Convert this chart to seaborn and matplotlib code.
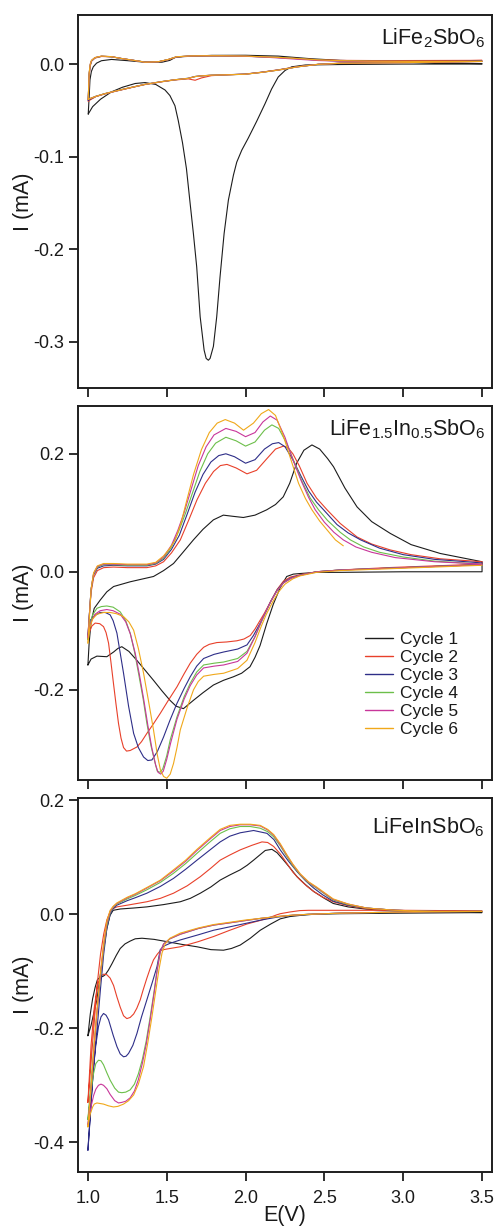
import matplotlib
matplotlib.use("Agg")
import matplotlib.pyplot as plt
from matplotlib.lines import Line2D
import pandas as pd
import seaborn as sns

# ---------------- data (E in V, I in mA) ----------------
CYCLES = ["Cycle 1", "Cycle 2", "Cycle 3", "Cycle 4", "Cycle 5", "Cycle 6"]
COLORS = ["#1c1c1c", "#e8402a", "#2e2e88", "#6cbf4a", "#c8369a", "#f0a81a"]
XTICKS = [1.0, 1.5, 2.0, 2.5, 3.0, 3.5]
XTICKLABELS = ["1.0", "1.5", "2.0", "2.5", "3.0", "3.5"]
TITLES = ["LiFe$_2$SbO$_6$", "LiFe$_{1.5}$In$_{0.5}$SbO$_6$", "LiFeInSbO$_6$"]
YTICKS_1 = [0.0, -0.1, -0.2, -0.3]
YTICKS_2 = [0.2, 0.0, -0.2]
YTICKS_3 = [0.2, 0.0, -0.2, -0.4]

# ----- Panel 1: LiFe2SbO6 -----
P1_C1_UP = [(1.002, -0.054), (1.008, -0.035), (1.013, -0.017), (1.022, -0.008), (1.034, -0.003),
            (1.055, 0.001), (1.086, 0.0036), (1.15, 0.005), (1.256, 0.0036), (1.362, 0.002),
            (1.47, 0.002), (1.52, 0.004), (1.552, 0.007), (1.60, 0.008), (1.784, 0.0094),
            (2.0, 0.0095), (2.207, 0.0086), (2.419, 0.0057), (2.6, 0.004), (2.8, 0.003),
            (3.0, 0.002), (3.25, 0.001), (3.5, 0.0005)]
P1_C1_DN = [(3.5, 0.0), (3.0, 0.0), (2.6, -0.0005), (2.38, -0.001), (2.292, -0.003), (2.25, -0.007),
            (2.207, -0.014), (2.165, -0.027), (2.123, -0.043), (2.07, -0.062), (2.017, -0.080),
            (1.976, -0.093), (1.944, -0.106), (1.923, -0.120), (1.891, -0.147), (1.864, -0.183),
            (1.838, -0.230), (1.817, -0.273), (1.796, -0.305), (1.775, -0.318), (1.764, -0.320),
            (1.75, -0.318), (1.737, -0.309), (1.712, -0.273), (1.690, -0.219), (1.669, -0.183),
            (1.648, -0.150), (1.625, -0.113), (1.60, -0.085), (1.573, -0.061), (1.552, -0.045),
            (1.52, -0.034), (1.489, -0.028), (1.43, -0.022), (1.362, -0.020), (1.30, -0.021),
            (1.22, -0.025), (1.150, -0.030), (1.08, -0.038), (1.03, -0.046), (1.002, -0.054)]
P1_UP_E = [1.002, 1.008, 1.015, 1.023, 1.045, 1.086, 1.15, 1.213, 1.29, 1.362, 1.446, 1.51, 1.562,
           1.65, 1.74, 1.85, 1.995, 2.1, 2.207, 2.33, 2.461, 2.6, 2.8, 3.0, 3.25, 3.5]
P1_C2_UP_I = [-0.040, -0.012, -0.002, 0.003, 0.0065, 0.0082, 0.0078, 0.006, 0.004, 0.0022, 0.0025,
              0.0048, 0.0077, 0.0086, 0.0088, 0.0088, 0.0085, 0.0079, 0.0071, 0.0060, 0.0046,
              0.0040, 0.0038, 0.0038, 0.0039, 0.0040]
P1_C3_UP_I = [-0.039, -0.011, -0.001, 0.0035, 0.0068, 0.0084, 0.0079, 0.006, 0.004, 0.0021, 0.0024,
              0.0049, 0.0078, 0.0087, 0.0089, 0.0089, 0.0085, 0.0079, 0.0071, 0.0059, 0.0043,
              0.0034, 0.0030, 0.0029, 0.0029, 0.0030]
P1_C4_UP_I = [-0.038, -0.010, -0.0005, 0.0038, 0.0069, 0.0085, 0.0079, 0.006, 0.004, 0.0021, 0.0024,
              0.0049, 0.0078, 0.0087, 0.0089, 0.0089, 0.0085, 0.0079, 0.0070, 0.0058, 0.0042,
              0.0033, 0.0029, 0.0028, 0.0028, 0.0029]
P1_C5_UP_I = [-0.038, -0.010, 0.0, 0.0039, 0.0070, 0.0085, 0.0080, 0.006, 0.004, 0.0020, 0.0024,
              0.0049, 0.0078, 0.0087, 0.0089, 0.0089, 0.0084, 0.0077, 0.0066, 0.0052, 0.0038,
              0.0031, 0.0028, 0.0027, 0.0027, 0.0028]
P1_C6_UP_I = [-0.038, -0.009, 0.0, 0.004, 0.007, 0.0086, 0.008, 0.006, 0.004, 0.002, 0.0025,
              0.005, 0.0079, 0.0088, 0.009, 0.009, 0.0086, 0.008, 0.0072, 0.006, 0.0045,
              0.0037, 0.0031, 0.0029, 0.0028, 0.0028]
P1_DN_E = [3.5, 3.0, 2.6, 2.461, 2.33, 2.207, 2.1, 1.996, 1.9, 1.784, 1.72, 1.68, 1.636, 1.55,
           1.467, 1.36, 1.256, 1.18, 1.108, 1.05, 1.002]
P1_C2_DN_I = [0.0040, 0.0025, 0.0010, -0.0002, -0.0028, -0.0062, -0.0088, -0.0108, -0.0115, -0.0125,
              -0.0150, -0.0175, -0.0160, -0.0172, -0.0192, -0.0222, -0.0262, -0.0292, -0.0322,
              -0.0352, -0.040]
P1_C3_DN_I = [0.0030, 0.0018, 0.0009, -0.0003, -0.0029, -0.0064, -0.0089, -0.0109, -0.0114, -0.0120,
              -0.0127, -0.0134, -0.0153, -0.0170, -0.0190, -0.0220, -0.0260, -0.0290, -0.0320,
              -0.0350, -0.039]
P1_C4_DN_I = [0.0029, 0.0016, 0.0008, -0.0003, -0.0030, -0.0065, -0.0090, -0.0110, -0.0115, -0.0121,
              -0.0128, -0.0135, -0.0155, -0.0170, -0.0190, -0.0220, -0.0259, -0.0289, -0.0319,
              -0.0348, -0.038]
P1_C5_DN_I = [0.0028, 0.0015, 0.0008, -0.0003, -0.0030, -0.0065, -0.0090, -0.0110, -0.0115, -0.0121,
              -0.0128, -0.0135, -0.0155, -0.0170, -0.0190, -0.0220, -0.0260, -0.0290, -0.0320,
              -0.0349, -0.038]
P1_C6_DN_I = [0.0028, 0.0015, 0.0008, -0.0003, -0.0030, -0.0065, -0.0090, -0.0110, -0.0115, -0.0120,
              -0.0128, -0.0135, -0.0155, -0.0170, -0.0190, -0.0220, -0.0260, -0.0290, -0.0320,
              -0.0350, -0.038]

# ----- Panel 2: LiFe1.5In0.5SbO6 -----
P2_C1_UP = [(1.0, -0.158), (1.008, -0.12), (1.02, -0.085), (1.04, -0.062), (1.078, -0.048),
            (1.12, -0.034), (1.163, -0.025), (1.268, -0.017), (1.35, -0.012), (1.416, -0.008),
            (1.48, 0.002), (1.543, 0.014), (1.60, 0.032), (1.669, 0.054), (1.73, 0.072),
            (1.796, 0.088), (1.859, 0.096), (1.92, 0.094), (1.986, 0.092), (2.06, 0.096),
            (2.134, 0.105), (2.19, 0.114), (2.239, 0.127), (2.28, 0.150), (2.324, 0.184),
            (2.37, 0.206), (2.421, 0.215), (2.47, 0.208), (2.52, 0.192), (2.558, 0.178),
            (2.63, 0.142), (2.707, 0.110), (2.80, 0.085), (2.918, 0.065), (3.05, 0.046),
            (3.235, 0.031), (3.5, 0.017)]
P2_C1_DN = [(3.5, 0.0), (3.0, 0.0), (2.6, -0.001), (2.45, -0.001), (2.345, -0.003), (2.303, -0.004),
            (2.261, -0.008), (2.218, -0.028), (2.176, -0.055), (2.134, -0.088), (2.092, -0.125),
            (2.06, -0.145), (2.028, -0.161), (1.975, -0.172), (1.923, -0.178), (1.86, -0.184),
            (1.796, -0.192), (1.73, -0.205), (1.669, -0.218), (1.606, -0.232), (1.56, -0.228),
            (1.521, -0.218), (1.47, -0.202), (1.416, -0.184), (1.36, -0.166), (1.31, -0.150),
            (1.26, -0.135), (1.215, -0.127), (1.19, -0.130), (1.163, -0.136), (1.12, -0.144),
            (1.057, -0.143), (1.02, -0.148), (1.0, -0.158)]
P2_C2_UP = [(1.0, -0.108), (1.01, -0.07), (1.02, -0.035), (1.036, -0.010), (1.06, 0.002),
            (1.10, 0.007), (1.162, 0.008), (1.25, 0.007), (1.374, 0.007), (1.43, 0.010),
            (1.48, 0.017), (1.53, 0.032), (1.586, 0.054), (1.64, 0.088), (1.692, 0.122),
            (1.745, 0.150), (1.797, 0.170), (1.84, 0.180), (1.882, 0.182), (1.94, 0.176),
            (2.009, 0.166), (2.07, 0.172), (2.136, 0.192), (2.19, 0.208), (2.24, 0.213),
            (2.27, 0.210), (2.30, 0.200), (2.34, 0.180), (2.39, 0.150), (2.45, 0.125),
            (2.517, 0.105), (2.60, 0.082), (2.707, 0.059), (2.80, 0.047), (2.918, 0.037),
            (3.05, 0.029), (3.235, 0.022), (3.5, 0.017)]
P2_C2_DN = [(3.5, 0.013), (3.2, 0.010), (2.9, 0.007), (2.6, 0.003), (2.45, 0.000), (2.345, -0.005),
            (2.284, -0.009), (2.24, -0.016), (2.20, -0.030), (2.16, -0.050), (2.12, -0.070),
            (2.093, -0.082), (2.06, -0.097), (2.03, -0.108), (1.99, -0.114), (1.945, -0.117),
            (1.88, -0.119), (1.818, -0.120), (1.77, -0.123), (1.734, -0.128), (1.69, -0.140),
            (1.649, -0.155), (1.61, -0.173), (1.565, -0.195), (1.51, -0.218), (1.459, -0.240),
            (1.415, -0.258), (1.374, -0.274), (1.34, -0.288), (1.311, -0.297), (1.268, -0.303),
            (1.245, -0.304), (1.226, -0.298), (1.21, -0.282), (1.194, -0.257), (1.178, -0.224),
            (1.162, -0.189), (1.146, -0.153), (1.131, -0.121), (1.115, -0.103), (1.099, -0.093),
            (1.075, -0.088), (1.046, -0.087), (1.025, -0.092), (1.015, -0.099), (1.0, -0.108)]
P2_C3_UP = [(1.0, -0.110), (1.01, -0.07), (1.02, -0.03), (1.036, -0.005), (1.06, 0.006),
            (1.10, 0.010), (1.162, 0.011), (1.25, 0.010), (1.374, 0.010), (1.43, 0.013),
            (1.48, 0.021), (1.53, 0.038), (1.58, 0.062), (1.63, 0.098), (1.68, 0.135),
            (1.73, 0.165), (1.78, 0.186), (1.83, 0.197), (1.875, 0.200), (1.93, 0.195),
            (2.0, 0.184), (2.06, 0.190), (2.12, 0.208), (2.17, 0.217), (2.21, 0.219),
            (2.25, 0.212), (2.30, 0.190), (2.35, 0.163), (2.40, 0.137), (2.45, 0.118),
            (2.495, 0.105), (2.58, 0.080), (2.65, 0.066), (2.73, 0.054), (2.85, 0.040),
            (3.0, 0.029), (3.2, 0.021), (3.5, 0.015)]
P2_C3_DN = [(3.5, 0.012), (3.2, 0.009), (2.9, 0.006), (2.6, 0.003), (2.45, 0.000), (2.345, -0.006),
            (2.29, -0.010), (2.24, -0.018), (2.20, -0.031), (2.16, -0.050), (2.12, -0.073),
            (2.093, -0.087), (2.05, -0.108), (2.009, -0.124), (1.95, -0.131), (1.861, -0.136),
            (1.80, -0.140), (1.734, -0.147), (1.69, -0.160), (1.649, -0.178), (1.61, -0.198),
            (1.565, -0.223), (1.52, -0.252), (1.48, -0.280), (1.44, -0.305), (1.406, -0.319),
            (1.38, -0.320), (1.353, -0.314), (1.32, -0.298), (1.29, -0.274), (1.258, -0.228),
            (1.226, -0.172), (1.205, -0.138), (1.184, -0.104), (1.16, -0.083), (1.141, -0.073),
            (1.11, -0.069), (1.078, -0.069), (1.045, -0.074), (1.015, -0.082), (1.0, -0.110)]
P2_C4_UP = [(1.0, -0.115), (1.01, -0.07), (1.02, -0.03), (1.036, -0.004), (1.06, 0.008),
            (1.10, 0.012), (1.162, 0.012), (1.25, 0.011), (1.374, 0.011), (1.43, 0.014),
            (1.48, 0.023), (1.53, 0.042), (1.575, 0.068), (1.62, 0.100), (1.665, 0.135),
            (1.71, 0.170), (1.76, 0.200), (1.81, 0.218), (1.875, 0.228), (1.94, 0.222),
            (2.0, 0.213), (2.06, 0.220), (2.12, 0.240), (2.167, 0.249), (2.21, 0.243),
            (2.26, 0.218), (2.31, 0.185), (2.36, 0.152), (2.41, 0.125), (2.463, 0.105),
            (2.52, 0.087), (2.60, 0.067), (2.665, 0.054), (2.75, 0.042), (2.85, 0.033),
            (3.0, 0.025), (3.2, 0.018), (3.5, 0.013)]
P2_C4_DN = [(3.5, 0.012), (3.2, 0.009), (2.9, 0.006), (2.6, 0.003), (2.45, 0.000), (2.345, -0.006),
            (2.29, -0.011), (2.24, -0.019), (2.20, -0.032), (2.16, -0.050), (2.12, -0.073),
            (2.10, -0.085), (2.06, -0.110), (2.009, -0.135), (1.95, -0.147), (1.861, -0.153),
            (1.80, -0.155), (1.734, -0.158), (1.69, -0.170), (1.649, -0.189), (1.61, -0.212),
            (1.565, -0.246), (1.522, -0.285), (1.50, -0.312), (1.475, -0.334), (1.458, -0.340),
            (1.44, -0.338), (1.427, -0.325), (1.40, -0.295), (1.374, -0.257), (1.35, -0.215),
            (1.321, -0.172), (1.295, -0.135), (1.268, -0.104), (1.24, -0.083), (1.205, -0.068),
            (1.16, -0.060), (1.12, -0.058), (1.085, -0.059), (1.057, -0.062), (1.03, -0.073),
            (1.012, -0.090), (1.0, -0.115)]
P2_C5_UP = [(1.0, -0.112), (1.01, -0.07), (1.02, -0.03), (1.036, -0.003), (1.06, 0.009),
            (1.10, 0.013), (1.162, 0.013), (1.25, 0.012), (1.374, 0.012), (1.43, 0.015),
            (1.48, 0.025), (1.53, 0.045), (1.57, 0.070), (1.61, 0.100), (1.655, 0.140),
            (1.70, 0.180), (1.75, 0.212), (1.80, 0.232), (1.875, 0.243), (1.94, 0.238),
            (2.0, 0.229), (2.06, 0.236), (2.11, 0.254), (2.157, 0.264), (2.20, 0.257),
            (2.25, 0.228), (2.30, 0.190), (2.35, 0.156), (2.40, 0.126), (2.442, 0.105),
            (2.50, 0.084), (2.56, 0.067), (2.62, 0.054), (2.70, 0.042), (2.80, 0.033),
            (2.95, 0.024), (3.2, 0.017), (3.5, 0.013)]
P2_C5_DN = [(3.5, 0.012), (3.2, 0.009), (2.9, 0.006), (2.6, 0.003), (2.45, 0.000), (2.345, -0.006),
            (2.29, -0.011), (2.24, -0.019), (2.20, -0.032), (2.16, -0.050), (2.12, -0.072),
            (2.10, -0.084), (2.06, -0.110), (2.009, -0.138), (1.95, -0.152), (1.861, -0.158),
            (1.80, -0.160), (1.734, -0.163), (1.69, -0.175), (1.649, -0.193), (1.61, -0.216),
            (1.565, -0.250), (1.525, -0.290), (1.50, -0.318), (1.478, -0.338), (1.462, -0.343),
            (1.445, -0.340), (1.43, -0.328), (1.405, -0.298), (1.38, -0.260), (1.355, -0.218),
            (1.327, -0.175), (1.30, -0.138), (1.27, -0.106), (1.24, -0.085), (1.205, -0.072),
            (1.16, -0.066), (1.12, -0.064), (1.078, -0.066), (1.045, -0.072), (1.02, -0.085),
            (1.008, -0.098), (1.0, -0.112)]
P2_C6_UP = [(1.0, -0.121), (1.01, -0.075), (1.02, -0.03), (1.036, -0.002), (1.06, 0.010),
            (1.10, 0.014), (1.162, 0.014), (1.25, 0.013), (1.374, 0.013), (1.43, 0.016),
            (1.48, 0.027), (1.52, 0.040), (1.554, 0.054), (1.59, 0.082), (1.628, 0.122),
            (1.67, 0.165), (1.72, 0.207), (1.77, 0.236), (1.82, 0.252), (1.871, 0.258),
            (1.93, 0.252), (1.987, 0.240), (2.05, 0.252), (2.10, 0.268), (2.146, 0.275),
            (2.19, 0.265), (2.24, 0.230), (2.29, 0.188), (2.336, 0.150), (2.38, 0.124),
            (2.421, 0.105), (2.47, 0.086), (2.52, 0.070), (2.57, 0.054), (2.62, 0.044)]
P2_C6_DN = [(3.5, 0.011), (3.2, 0.008), (2.9, 0.005), (2.6, 0.002), (2.45, -0.001), (2.345, -0.007),
            (2.30, -0.012), (2.25, -0.021), (2.21, -0.034), (2.17, -0.052), (2.13, -0.073),
            (2.10, -0.092), (2.06, -0.120), (2.009, -0.150), (1.95, -0.164), (1.861, -0.172),
            (1.80, -0.174), (1.734, -0.177), (1.70, -0.186), (1.67, -0.200), (1.63, -0.230),
            (1.586, -0.268), (1.565, -0.298), (1.543, -0.325), (1.522, -0.343), (1.50, -0.350),
            (1.48, -0.347), (1.46, -0.336), (1.44, -0.310), (1.416, -0.268), (1.385, -0.220),
            (1.353, -0.172), (1.32, -0.130), (1.29, -0.099), (1.26, -0.085), (1.226, -0.076),
            (1.18, -0.071), (1.141, -0.069), (1.10, -0.069), (1.057, -0.072), (1.03, -0.080),
            (1.012, -0.095), (1.0, -0.121)]

# ----- Panel 3: LiFeInSbO6 -----
P3_C1_UP = [(1.0, -0.213), (1.02, -0.195), (1.04, -0.170), (1.057, -0.150), (1.078, -0.108),
            (1.099, -0.063), (1.12, -0.025), (1.14, -0.002), (1.16, 0.007), (1.205, 0.0093),
            (1.29, 0.011), (1.374, 0.013), (1.48, 0.017), (1.586, 0.022), (1.65, 0.028),
            (1.713, 0.037), (1.78, 0.048), (1.839, 0.060), (1.90, 0.069), (1.966, 0.078),
            (2.01, 0.086), (2.051, 0.095), (2.09, 0.104), (2.125, 0.112), (2.167, 0.114),
            (2.20, 0.108), (2.241, 0.095), (2.28, 0.082), (2.326, 0.066), (2.38, 0.052),
            (2.432, 0.040), (2.50, 0.028), (2.556, 0.019), (2.65, 0.013), (2.767, 0.009),
            (2.95, 0.006), (3.19, 0.004), (3.5, 0.003)]
P3_C1_DN = [(3.5, 0.003), (3.0, 0.002), (2.6, 0.001), (2.43, 0.0), (2.345, -0.002), (2.28, -0.004),
            (2.22, -0.008), (2.16, -0.017), (2.093, -0.028), (2.03, -0.042), (1.966, -0.054),
            (1.91, -0.060), (1.86, -0.063), (1.78, -0.062), (1.692, -0.057), (1.60, -0.053),
            (1.501, -0.048), (1.42, -0.044), (1.343, -0.042), (1.30, -0.043), (1.268, -0.047),
            (1.235, -0.052), (1.205, -0.060), (1.18, -0.072), (1.152, -0.087), (1.13, -0.098),
            (1.11, -0.106), (1.095, -0.109), (1.078, -0.110), (1.06, -0.115), (1.046, -0.128),
            (1.03, -0.148), (1.015, -0.175), (1.0, -0.213)]
P3_C2_UP = [(1.0, -0.330), (1.02, -0.26), (1.04, -0.19), (1.06, -0.12), (1.08, -0.07),
            (1.10, -0.035), (1.12, -0.010), (1.14, 0.004), (1.16, 0.010), (1.184, 0.013),
            (1.25, 0.016), (1.374, 0.022), (1.46, 0.028), (1.543, 0.037), (1.63, 0.050),
            (1.713, 0.066), (1.78, 0.081), (1.839, 0.095), (1.90, 0.104), (1.966, 0.113),
            (2.04, 0.121), (2.104, 0.127), (2.14, 0.126), (2.178, 0.119), (2.22, 0.106),
            (2.263, 0.089), (2.30, 0.074), (2.347, 0.060), (2.39, 0.049), (2.432, 0.040),
            (2.49, 0.030), (2.556, 0.022), (2.65, 0.015), (2.767, 0.010), (2.95, 0.007),
            (3.2, 0.005), (3.5, 0.005)]
P3_C2_DN = [(3.5, 0.006), (3.0, 0.007), (2.6, 0.007), (2.40, 0.007), (2.345, 0.0065), (2.28, 0.004),
            (2.22, 0.001), (2.197, -0.001), (2.15, -0.006), (2.09, -0.011), (2.009, -0.017),
            (1.90, -0.028), (1.797, -0.039), (1.70, -0.048), (1.586, -0.057), (1.52, -0.060),
            (1.48, -0.062), (1.459, -0.064), (1.44, -0.070), (1.416, -0.080), (1.395, -0.095),
            (1.374, -0.112), (1.35, -0.133), (1.332, -0.150), (1.31, -0.165), (1.29, -0.175),
            (1.268, -0.181), (1.247, -0.183), (1.226, -0.178), (1.205, -0.163), (1.184, -0.145),
            (1.163, -0.125), (1.141, -0.112), (1.12, -0.106), (1.10, -0.105), (1.08, -0.109),
            (1.06, -0.125), (1.04, -0.165), (1.02, -0.23), (1.0, -0.330)]
P3_C3_UP = [(1.0, -0.414), (1.015, -0.35), (1.03, -0.29), (1.045, -0.24), (1.06, -0.195),
            (1.08, -0.13), (1.10, -0.070), (1.12, -0.025), (1.141, 0.0), (1.16, 0.010),
            (1.184, 0.016), (1.25, 0.024), (1.30, 0.029), (1.374, 0.037), (1.46, 0.049),
            (1.543, 0.063), (1.62, 0.079), (1.692, 0.095), (1.77, 0.112), (1.839, 0.127),
            (1.90, 0.137), (1.966, 0.143), (2.051, 0.147), (2.136, 0.142), (2.18, 0.131),
            (2.22, 0.113), (2.27, 0.094), (2.326, 0.075), (2.38, 0.059), (2.432, 0.046),
            (2.49, 0.034), (2.556, 0.023), (2.65, 0.016), (2.767, 0.011), (2.95, 0.007),
            (3.2, 0.005), (3.5, 0.005)]
P3_C3_DN = [(3.5, 0.005), (3.0, 0.004), (2.6, 0.002), (2.40, 0.0), (2.30, -0.002), (2.2, -0.005),
            (2.1, -0.010), (2.0, -0.016), (1.9, -0.022), (1.797, -0.028), (1.70, -0.036),
            (1.586, -0.045), (1.52, -0.051), (1.48, -0.056), (1.459, -0.062), (1.438, -0.092),
            (1.41, -0.118), (1.374, -0.150), (1.34, -0.180), (1.311, -0.209), (1.285, -0.230),
            (1.258, -0.244), (1.242, -0.249), (1.226, -0.250), (1.205, -0.245), (1.184, -0.232),
            (1.16, -0.212), (1.131, -0.185), (1.115, -0.177), (1.099, -0.174), (1.083, -0.180),
            (1.067, -0.197), (1.05, -0.230), (1.036, -0.267), (1.025, -0.310), (1.015, -0.355),
            (1.0, -0.414)]
P3_UP_E = [1.0, 1.015, 1.03, 1.045, 1.06, 1.08, 1.10, 1.12, 1.141, 1.16, 1.184, 1.25, 1.30, 1.374,
           1.46, 1.543, 1.62, 1.692, 1.77, 1.839, 1.90, 1.966, 2.03, 2.093, 2.14, 2.178, 2.22,
           2.263, 2.30, 2.347, 2.40, 2.45, 2.50, 2.556, 2.65, 2.767, 2.95, 3.2, 3.5]
P3_C4_UP_I = [-0.360, -0.31, -0.26, -0.21, -0.165, -0.11, -0.060, -0.020, 0.003, 0.012, 0.018,
              0.027, 0.033, 0.043, 0.056, 0.072, 0.089, 0.107, 0.126, 0.142, 0.150, 0.154, 0.154,
              0.151, 0.145, 0.136, 0.120, 0.101, 0.085, 0.069, 0.055, 0.046, 0.036, 0.025, 0.017,
              0.011, 0.007, 0.005, 0.005]
P3_C5_UP_I = [-0.370, -0.32, -0.27, -0.215, -0.165, -0.105, -0.055, -0.016, 0.005, 0.013, 0.019,
              0.029, 0.035, 0.046, 0.059, 0.076, 0.093, 0.112, 0.131, 0.147, 0.154, 0.157, 0.157,
              0.155, 0.148, 0.139, 0.122, 0.103, 0.087, 0.070, 0.056, 0.047, 0.037, 0.026, 0.018,
              0.011, 0.007, 0.005, 0.005]
P3_C6_UP_I = [-0.373, -0.32, -0.265, -0.21, -0.16, -0.10, -0.050, -0.012, 0.007, 0.014, 0.020,
              0.030, 0.036, 0.047, 0.060, 0.078, 0.095, 0.114, 0.133, 0.149, 0.156, 0.158, 0.158,
              0.156, 0.149, 0.140, 0.124, 0.104, 0.088, 0.071, 0.057, 0.048, 0.038, 0.027, 0.018,
              0.011, 0.007, 0.005, 0.005]
P3_DN_E = [3.5, 3.0, 2.6, 2.40, 2.30, 2.2, 2.1, 2.0, 1.9, 1.797, 1.70, 1.586, 1.52, 1.48, 1.459,
           1.44, 1.42, 1.395, 1.37, 1.345, 1.32, 1.295, 1.268, 1.24, 1.215, 1.194, 1.17, 1.141,
           1.12, 1.099, 1.083, 1.067, 1.05, 1.036, 1.022, 1.01, 1.0]
P3_C4_DN_I = [0.005, 0.004, 0.002, 0.0, -0.0015, -0.004, -0.007, -0.011, -0.015, -0.019, -0.025,
              -0.035, -0.043, -0.052, -0.066, -0.095, -0.135, -0.180, -0.222, -0.255, -0.280,
              -0.298, -0.308, -0.312, -0.313, -0.312, -0.305, -0.291, -0.278, -0.264, -0.257,
              -0.256, -0.262, -0.279, -0.305, -0.335, -0.360]
P3_C5_DN_I = [0.005, 0.004, 0.002, 0.0, -0.0015, -0.004, -0.007, -0.011, -0.015, -0.019, -0.025,
              -0.035, -0.043, -0.052, -0.066, -0.097, -0.138, -0.185, -0.228, -0.262, -0.290,
              -0.310, -0.322, -0.328, -0.330, -0.331, -0.327, -0.316, -0.306, -0.300, -0.298,
              -0.300, -0.307, -0.318, -0.335, -0.352, -0.370]
P3_C6_DN = [(3.5, 0.005), (3.0, 0.004), (2.6, 0.002), (2.40, 0.0), (2.30, -0.0015), (2.2, -0.004),
            (2.1, -0.007), (2.0, -0.010), (1.9, -0.014), (1.797, -0.018), (1.70, -0.024),
            (1.586, -0.033), (1.52, -0.042), (1.49, -0.052), (1.47, -0.068), (1.45, -0.098),
            (1.43, -0.135), (1.406, -0.180), (1.38, -0.225), (1.353, -0.267), (1.32, -0.298),
            (1.29, -0.317), (1.258, -0.327), (1.226, -0.333), (1.19, -0.337), (1.162, -0.338),
            (1.13, -0.336), (1.099, -0.333), (1.078, -0.332), (1.057, -0.331), (1.04, -0.333),
            (1.03, -0.338), (1.015, -0.350), (1.0, -0.373)]


def zipped(es, is_):
    return list(zip(es, is_))


PANELS = [
    [(P1_C1_UP + P1_C1_DN,),
     (zipped(P1_UP_E, P1_C2_UP_I) + zipped(P1_DN_E, P1_C2_DN_I),),
     (zipped(P1_UP_E, P1_C3_UP_I) + zipped(P1_DN_E, P1_C3_DN_I),),
     (zipped(P1_UP_E, P1_C4_UP_I) + zipped(P1_DN_E, P1_C4_DN_I),),
     (zipped(P1_UP_E, P1_C5_UP_I) + zipped(P1_DN_E, P1_C5_DN_I),),
     (zipped(P1_UP_E, P1_C6_UP_I) + zipped(P1_DN_E, P1_C6_DN_I),)],
    [(P2_C1_UP + P2_C1_DN,), (P2_C2_UP + P2_C2_DN,), (P2_C3_UP + P2_C3_DN,),
     (P2_C4_UP + P2_C4_DN,), (P2_C5_UP + P2_C5_DN,), (P2_C6_UP, P2_C6_DN)],
    [(P3_C1_UP + P3_C1_DN,), (P3_C2_UP + P3_C2_DN,), (P3_C3_UP + P3_C3_DN,),
     (zipped(P3_UP_E, P3_C4_UP_I) + zipped(P3_DN_E, P3_C4_DN_I),),
     (zipped(P3_UP_E, P3_C5_UP_I) + zipped(P3_DN_E, P3_C5_DN_I),),
     (zipped(P3_UP_E, P3_C6_UP_I) + P3_C6_DN,)],
]


def panel_frame(cycles):
    rows = []
    seg = 0
    for cname, segs in zip(CYCLES, cycles):
        for s in segs:
            for k, (e, i) in enumerate(s):
                rows.append({"E": e, "I": i, "Cycle": cname, "seg": seg, "k": k})
            seg += 1
    return pd.DataFrame(rows)


# ---------------- styling ----------------
sns.set_theme(style="white")
plt.rcParams["font.family"] = ["Liberation Sans", "DejaVu Sans"]
plt.rcParams["mathtext.fontset"] = "custom"
plt.rcParams["mathtext.rm"] = "Liberation Sans"
plt.rcParams["mathtext.it"] = "Liberation Sans:italic"
plt.rcParams["mathtext.bf"] = "Liberation Sans:bold"
plt.rcParams["axes.unicode_minus"] = False

fig = plt.figure(figsize=(4.97, 12.26), dpi=100)
LEFT, WIDTH = 0.1569, 0.8330
POS = [(0.68352, 0.30424), (0.36378, 0.30506), (0.04429, 0.30457)]
YLIMS = [(-0.350, 0.053), (-0.353, 0.281), (-0.4516, 0.2035)]
YTICKS = [YTICKS_1, YTICKS_2, YTICKS_3]
TITLE_Y = [0.920, 0.922, 0.906]
SPINE = "#1e1e1e"
palette = dict(zip(CYCLES, COLORS))

axes = []
for p in range(3):
    ax = fig.add_axes([LEFT, POS[p][0], WIDTH, POS[p][1]])
    axes.append(ax)
    df = panel_frame(PANELS[p])
    sns.lineplot(data=df, x="E", y="I", hue="Cycle", units="seg", estimator=None, sort=False,
                 palette=palette, hue_order=CYCLES, linewidth=0.8, legend=False, ax=ax)
    ax.set_xlim(0.937, 3.563)
    ax.set_ylim(*YLIMS[p])
    ax.set_xticks(XTICKS)
    ax.set_yticks(YTICKS[p])
    ax.set_yticklabels([f"{v:.1f}" for v in YTICKS[p]])
    if p == 2:
        ax.set_xticklabels(XTICKLABELS)
        ax.set_xlabel("E(V)", fontsize=15.5, color="#1a1a1a")
        ax.xaxis.set_label_coords(0.5, -0.090)
    else:
        ax.set_xticklabels([])
        ax.set_xlabel("")
    ax.set_ylabel("I (mA)", fontsize=15.5, color="#1a1a1a")
    ax.yaxis.set_label_coords(-0.107, 0.5)
    ax.tick_params(axis="both", direction="out", length=6.8, width=1.3, color=SPINE,
                   labelsize=13, labelcolor="#1a1a1a", bottom=True, left=True)
    ax.tick_params(axis="x", pad=6.5)
    ax.tick_params(axis="y", pad=3)
    for sp in ax.spines.values():
        sp.set_color(SPINE)
        sp.set_linewidth(1.4)
        sp.set_visible(True)
    ax.text(0.983, TITLE_Y[p], TITLES[p], transform=ax.transAxes, ha="right", va="baseline",
            fontsize=15.5, color="#1a1a1a")

handles = [Line2D([], [], color=c, lw=1.0) for c in COLORS]
axes[1].legend(handles, CYCLES, loc="upper left", bbox_to_anchor=(0.693, 0.395), frameon=False,
               fontsize=12.5, handlelength=1.6, handletextpad=0.45, labelspacing=0.16,
               borderaxespad=0, borderpad=0, labelcolor="#1a1a1a")

fig.savefig("out.png", dpi=100)
